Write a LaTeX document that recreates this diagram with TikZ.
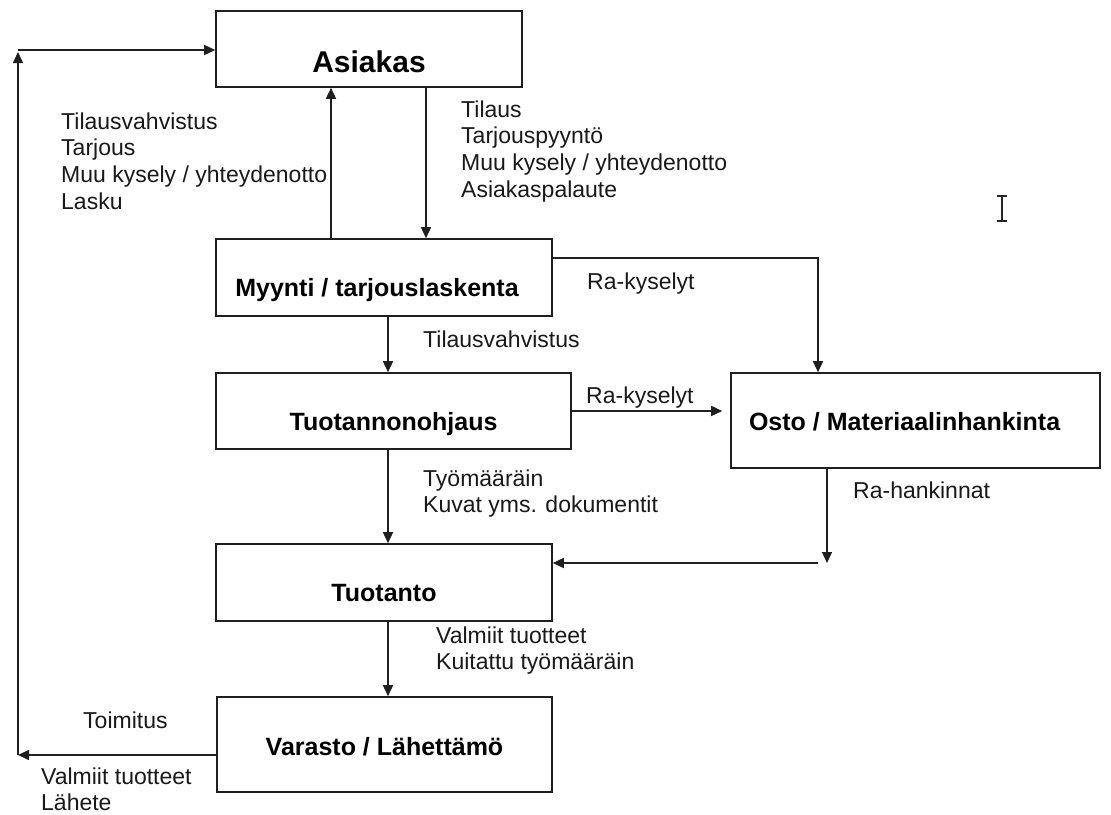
\documentclass[tikz,border=0pt]{standalone}
\usepackage{fontspec}
\setmainfont{Liberation Sans}
\usetikzlibrary{arrows.meta}
% several left-aligned lines whose first baseline is the node's base
\newcommand\stacklines[1]{\begin{tabular}[t]{@{}l@{}}#1\end{tabular}}

\begin{document}
\begin{tikzpicture}[x=1pt,y=-1pt,
  unit/.style={draw=black!88, line width=1.6pt, rectangle, inner xsep=0pt, inner ysep=0pt,
    anchor=base, text=black, font=\fontsize{25}{30}\selectfont\bfseries},
  flow/.style={draw=black!88, line width=1.5pt, -{Triangle[length=11pt,width=10pt]}},
  note/.style={inner sep=0pt, anchor=base west, text=black!90,
    font=\fontsize{23}{26.7}\selectfont}]
\useasboundingbox[fill=white] (0,0) rectangle (1111,814);

% departments
\node[unit, minimum width=306pt, text height=61pt, text depth=15pt,
      font=\fontsize{30}{36}\selectfont\bfseries] (asiakas) at (369,72) {Asiakas};
\node[unit, text height=57pt, text depth=20pt] (myynti) at (384,296)
  {\makebox[336pt][c]{Myynti / tarjouslaskenta\hspace*{14pt}}};
\node[unit, minimum width=355pt, text height=57pt, text depth=19pt] (ohjaus) at (393.5,430) {Tuotannonohjaus};
\node[unit, text height=57pt, text depth=38pt] (osto) at (915.5,430)
  {\makebox[369pt][l]{\hspace*{18pt}Osto / Materiaalinhankinta}};
\node[unit, minimum width=336pt, text height=57pt, text depth=20pt] (tuotanto) at (384,601) {Tuotanto};
\node[unit, minimum width=335pt, text height=58pt, text depth=37pt] (varasto) at (384.5,755) {Varasto / Lähettämö};

% routing points
\coordinate (upx) at (331,0);
\coordinate (downx) at (426,0);
\coordinate (midx) at (388,0);
\coordinate (rax) at (818,258);
\coordinate (rah) at (827,563);
\coordinate (loopT) at (18,50);
\coordinate (loopB) at (18,755);

% flows
\draw[flow] (myynti.north -| upx) -- (asiakas.south -| upx);
\draw[flow] (asiakas.south -| downx) -- (myynti.north -| downx);
\draw[flow] (myynti.south -| midx) -- (ohjaus.north -| midx);
\draw[flow] (ohjaus.south -| midx) -- (tuotanto.north -| midx);
\draw[flow] (tuotanto.south -| midx) -- (varasto.north -| midx);
\draw[flow] (myynti.east |- rax) -- (rax) -- (osto.north -| rax);
\draw[flow, shorten >=8pt] (ohjaus.east) -- (osto.west |- ohjaus.east);
\draw[flow] (osto.south -| rah) -- (rah);
\draw[flow] ([xshift=-9pt]rah) -- (tuotanto.east |- rah);
\draw[flow] (varasto.west |- loopB) -- (loopB);
\draw[flow] (loopB) -- ([yshift=-2pt]loopT);
\draw[flow] (loopT) -- (asiakas.west |- loopT);

% flow labels
\node[note] (lblBack) at (61,129) {\stacklines{Tilausvahvistus\\Tarjous\\Muu kysely / yhteydenotto\\Lasku}};
\node[note] (lblOrder) at (461,117) {\stacklines{Tilaus\\Tarjouspyyntö\\Muu kysely / yhteydenotto\\Asiakaspalaute}};
\node[note] (lblRa1) at (587,289) {Ra-kyselyt};
\node[note] (lblConf) at (423,347) {Tilausvahvistus};
\node[note] (lblRa2) at (586,403) {Ra-kyselyt};
\node[note] (lblWork) at (423,486) {\stacklines{Työmääräin\\Kuvat yms. dokumentit}};
\node[note] (lblBuy) at (853,498) {Ra-hankinnat};
\node[note] (lblDone) at (436,643) {\stacklines{Valmiit tuotteet\\Kuitattu työmääräin}};
\node[note] (lblShip) at (83,728) {Toimitus};
\node[note] (lblGoods) at (41,784) {\stacklines{Valmiit tuotteet\\Lähete}};

% text cursor
\draw[line width=1.4pt, black!85] (1002,197) -- (1002,220)
  (997,196) -- (1007,196) (997,221) -- (1007,221);
\end{tikzpicture}
\end{document}
